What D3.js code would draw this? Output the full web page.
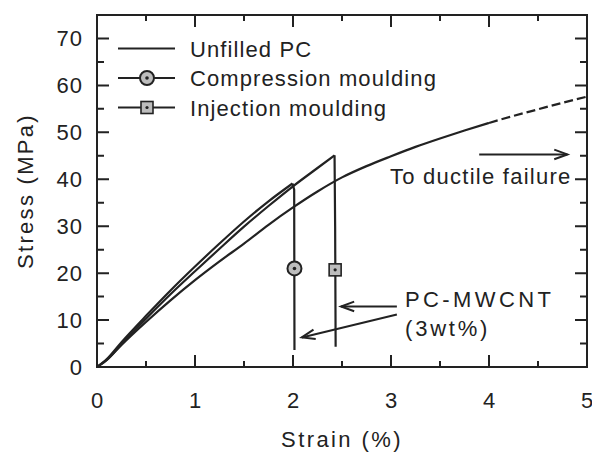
<!DOCTYPE html>
<html>
<head>
<meta charset="utf-8">
<script src="https://cdn.jsdelivr.net/npm/d3@7"></script>
<style>
  body { margin: 0; background: #fff; }
  text { font-family: "Liberation Sans", Arial, sans-serif; fill: #222; }
</style>
</head>
<body>
<svg id="chart" width="592" height="453"></svg>
<script>
// strain (%) / stress (MPa)
const unfilledPC = [
    [0, 0], [0.1, 1.5], [0.25, 4.7], [0.5, 9.6], [0.75, 14.2], [1.0, 18.5],
    [1.25, 22.5], [1.5, 26.3], [1.75, 30.3], [2.0, 34.0], [2.25, 37.4],
    [2.5, 40.4], [2.75, 42.8], [3.0, 44.9], [3.25, 46.9], [3.5, 48.7],
    [3.75, 50.4], [4.0, 52.0]
];
const unfilledDashed = [
    [4.0, 52.0], [4.25, 53.5], [4.5, 54.9], [4.75, 56.3], [5.0, 57.6]
];
const compression = [
    [0, 0], [0.1, 1.7], [0.25, 5.3], [0.5, 10.9], [0.75, 16.3], [1.0, 21.4],
    [1.25, 26.3], [1.5, 31.0], [1.75, 35.3], [1.995, 39.1], [2.012, 37.8],
    [2.015, 3.6]
];
const injection = [
    [0, 0], [0.1, 1.5], [0.25, 4.9], [0.5, 10.3], [0.75, 15.5], [1.0, 20.4],
    [1.25, 25.2], [1.5, 29.9], [1.75, 34.3], [2.0, 38.5], [2.25, 42.4],
    [2.424, 45.1], [2.43, 30], [2.435, 4.3]
];
const compressionMarker = [2.015, 21];
const injectionMarker = [2.43, 20.7];

const xTicks = [0, 1, 2, 3, 4, 5];
const yTicks = [0, 10, 20, 30, 40, 50, 60, 70];
const xMinor = [0.5, 1.5, 2.5, 3.5, 4.5];
const yMinor = [5, 15, 25, 35, 45, 55, 65];

const legendItems = ["Unfilled PC", "Compression moulding", "Injection moulding"];

const width = 592, height = 453;
const margin = { top: 15, right: 5, bottom: 86, left: 97 };
const ink = "#222";

const svg = d3.select("#chart");

const x = d3.scaleLinear().domain([0, 5]).range([margin.left, width - margin.right]);
const y = d3.scaleLinear().domain([0, 75]).range([height - margin.bottom, margin.top]);

// tick labels from d3 axes
function styleAxis(g) {
    g.select(".domain").remove();
    g.selectAll(".tick line").remove();
    g.selectAll(".tick text")
        .attr("fill", ink)
        .style("font-size", "22px")
        .style("letter-spacing", "1px");
}
svg.append("g")
    .attr("transform", `translate(0,${y(0)})`)
    .call(d3.axisBottom(x).tickValues(xTicks).tickSize(0).tickPadding(25).tickFormat(d3.format("d")))
    .call(styleAxis);
svg.append("g")
    .attr("transform", `translate(${x(0)},0)`)
    .call(d3.axisLeft(y).tickValues(yTicks).tickSize(0).tickPadding(14).tickFormat(d3.format("d")))
    .call(styleAxis);

// inward tick marks on all four sides, one path
let tickPath = "";
const addX = (vals, len) => vals.forEach(v => {
    tickPath += `M${x(v)},${y(0)}V${y(0) - len}M${x(v)},${y(75)}V${y(75) + len}`;
});
const addY = (vals, len) => vals.forEach(v => {
    tickPath += `M${x(0)},${y(v)}H${x(0) + len}M${x(5)},${y(v)}H${x(5) - len}`;
});
addX(xTicks, 12);
addX(xMinor, 6);
addY(yTicks, 12);
addY(yMinor, 7);
svg.append("path")
    .attr("d", tickPath)
    .attr("fill", "none")
    .attr("stroke", ink)
    .attr("stroke-width", 2);

// frame
svg.append("rect")
    .attr("x", x(0)).attr("y", y(75))
    .attr("width", x(5) - x(0)).attr("height", y(0) - y(75))
    .attr("fill", "none").attr("stroke", ink).attr("stroke-width", 2);

// axis titles
svg.append("text")
    .attr("x", (x(0) + x(5)) / 2).attr("y", 447)
    .attr("text-anchor", "middle")
    .style("font-size", "22px").style("letter-spacing", "2.4px")
    .text("Strain (%)");
svg.append("text")
    .attr("transform", `translate(33,${(y(0) + y(75)) / 2}) rotate(-90)`)
    .attr("text-anchor", "middle")
    .style("font-size", "22px").style("letter-spacing", "2.3px")
    .text("Stress (MPa)");

// curves: smooth up to the peak, straight drop after it
const smooth = d3.line().x(d => x(d[0])).y(d => y(d[1])).curve(d3.curveMonotoneX);
const straight = d3.line().x(d => x(d[0])).y(d => y(d[1]));
const curves = svg.append("g").attr("fill", "none").attr("stroke", ink).attr("stroke-width", 2.2)
    .attr("stroke-linejoin", "round");
function drawCurve(data) {
    const peak = d3.maxIndex(data, d => d[1]);
    curves.append("path").attr("d", smooth(data.slice(0, peak + 1)));
    if (peak < data.length - 1) curves.append("path").attr("d", straight(data.slice(peak)));
}
drawCurve(unfilledPC);
curves.append("path").attr("d", smooth(unfilledDashed)).attr("stroke-dasharray", "9,4");
drawCurve(compression);
drawCurve(injection);

function circleMarker(g, cx, cy) {
    g.append("circle").attr("cx", cx).attr("cy", cy).attr("r", 7)
        .attr("fill", "#bdbdbd").attr("stroke", ink).attr("stroke-width", 2);
    g.append("circle").attr("cx", cx).attr("cy", cy).attr("r", 1.8).attr("fill", ink);
}
function squareMarker(g, cx, cy) {
    g.append("rect").attr("x", cx - 6).attr("y", cy - 6).attr("width", 12).attr("height", 12)
        .attr("fill", "#bdbdbd").attr("stroke", ink).attr("stroke-width", 1.6);
    g.append("circle").attr("cx", cx).attr("cy", cy).attr("r", 1.6).attr("fill", ink);
}

const markers = svg.append("g");
circleMarker(markers, x(compressionMarker[0]), y(compressionMarker[1]));
squareMarker(markers, x(injectionMarker[0]), y(injectionMarker[1]));

// legend
const legend = svg.append("g");
legendItems.forEach((name, i) => {
    const ly = 48.5 + i * 29.5;
    legend.append("line").attr("x1", 118).attr("x2", 175).attr("y1", ly).attr("y2", ly)
        .attr("stroke", ink).attr("stroke-width", 2.2);
    if (i === 1) circleMarker(legend, 147, ly);
    if (i === 2) squareMarker(legend, 147, ly);
    legend.append("text").attr("x", 190).attr("y", ly + 8.2)
        .style("font-size", "22px").style("letter-spacing", "1.1px")
        .text(name);
});

// annotations with open arrowheads
function arrow(g, x1, y1, x2, y2) {
    const a = Math.atan2(y2 - y1, x2 - x1), len = 14, spread = 0.35;
    g.append("line").attr("x1", x1).attr("y1", y1).attr("x2", x2).attr("y2", y2);
    g.append("path").attr("d",
        `M${x2 - len * Math.cos(a - spread)},${y2 - len * Math.sin(a - spread)}L${x2},${y2}` +
        `L${x2 - len * Math.cos(a + spread)},${y2 - len * Math.sin(a + spread)}`);
}
const notes = svg.append("g").attr("stroke", ink).attr("stroke-width", 2).attr("fill", "none");
arrow(notes, x(3.9), y(45.3), x(4.8), y(45.3));
arrow(notes, x(3.06), y(12.9), x(2.49), y(12.9));
arrow(notes, x(3.06), y(11.2), x(2.09), y(6.3));

svg.append("text").attr("x", 390).attr("y", 184)
    .style("font-size", "22px").style("letter-spacing", "1.25px")
    .text("To ductile failure");
svg.append("text").attr("x", 405).attr("y", 307)
    .style("font-size", "22px").style("letter-spacing", "3.4px")
    .text("PC-MWCNT");
svg.append("text").attr("x", 405).attr("y", 336)
    .style("font-size", "22px").style("letter-spacing", "2.8px")
    .text("(3wt%)");
</script>
</body>
</html>
